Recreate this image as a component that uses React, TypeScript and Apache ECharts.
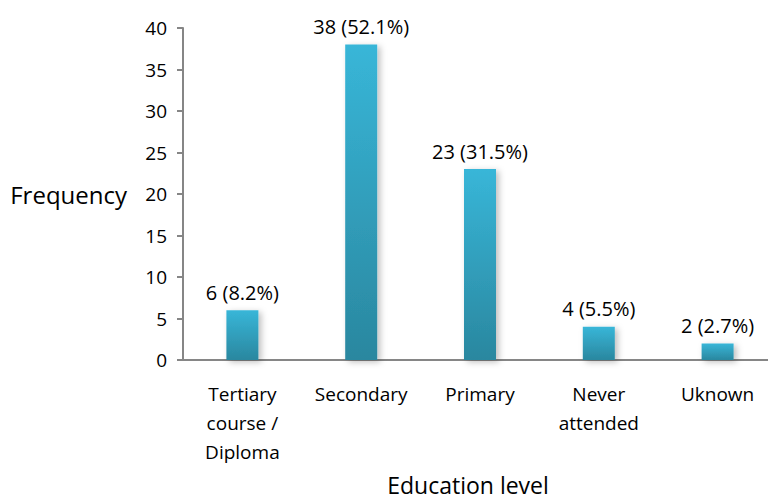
import React, { useEffect, useRef } from "react";
import * as echarts from "echarts";

const categories = ["Tertiary\ncourse /\nDiploma", "Secondary", "Primary", "Never\nattended", "Uknown"];
const values = [6, 38, 23, 4, 2];
const percents = ["8.2%", "52.1%", "31.5%", "5.5%", "2.7%"];
const yTicks = { min: 0, max: 40, interval: 5 };

export default function App() {
  const ref = useRef<HTMLDivElement>(null);
  useEffect(() => {
    const chart = echarts.init(ref.current!, undefined, { renderer: "svg" });
    const font = "'Open Sans', 'Liberation Sans', sans-serif";
    chart.setOption({
      animation: false,
      backgroundColor: "#ffffff",
      grid: { left: 183, top: 28, width: 594, height: 332, outerBoundsMode: "none", containLabel: false },
      xAxis: {
        type: "category",
        data: categories,
        axisLine: { lineStyle: { color: "#868686", width: 2 } },
        axisTick: { show: false },
        axisLabel: { interval: 0, color: "#000", fontSize: 19, fontFamily: font, lineHeight: 29, margin: 19 },
        name: "Education level",
        nameLocation: "middle",
        nameGap: 113,
        nameTextStyle: { color: "#000", fontSize: 23, fontFamily: font, padding: [0, 24, 0, 0] },
      },
      yAxis: {
        type: "value",
        min: yTicks.min,
        max: yTicks.max,
        interval: yTicks.interval,
        splitLine: { show: false },
        axisLine: { show: true, lineStyle: { color: "#868686", width: 2 } },
        axisTick: { show: true, length: 6, lineStyle: { color: "#868686", width: 2 } },
        axisLabel: { color: "#000", fontSize: 19, fontFamily: font, margin: 16 },
        name: "Frequency",
        nameLocation: "middle",
        nameRotate: 0,
        nameGap: 56,
        nameTextStyle: { color: "#000", fontSize: 24, fontFamily: font },
      },
      series: [
        {
          type: "bar",
          data: values,
          barWidth: 32,
          itemStyle: {
            color: new echarts.graphic.LinearGradient(0, 0, 0, 1, [
              { offset: 0, color: "#38B6D8" },
              { offset: 1, color: "#2A879F" },
            ]),
            shadowColor: "rgba(0,0,0,0.25)",
            shadowBlur: 6,
            shadowOffsetX: 3,
            shadowOffsetY: 2,
          },
          label: {
            show: true,
            position: "top",
            distance: 8,
            color: "#000",
            fontSize: 20,
            fontFamily: font,
            formatter: (p: any) => `${values[p.dataIndex]} (${percents[p.dataIndex]})`,
          },
        },
      ],
    });
    return () => chart.dispose();
  }, []);
  return (
    <div
      ref={ref}
      style={{ position: "fixed", left: 0, top: 0, width: 768, height: 502, background: "#fff" }}
    />
  );
}
